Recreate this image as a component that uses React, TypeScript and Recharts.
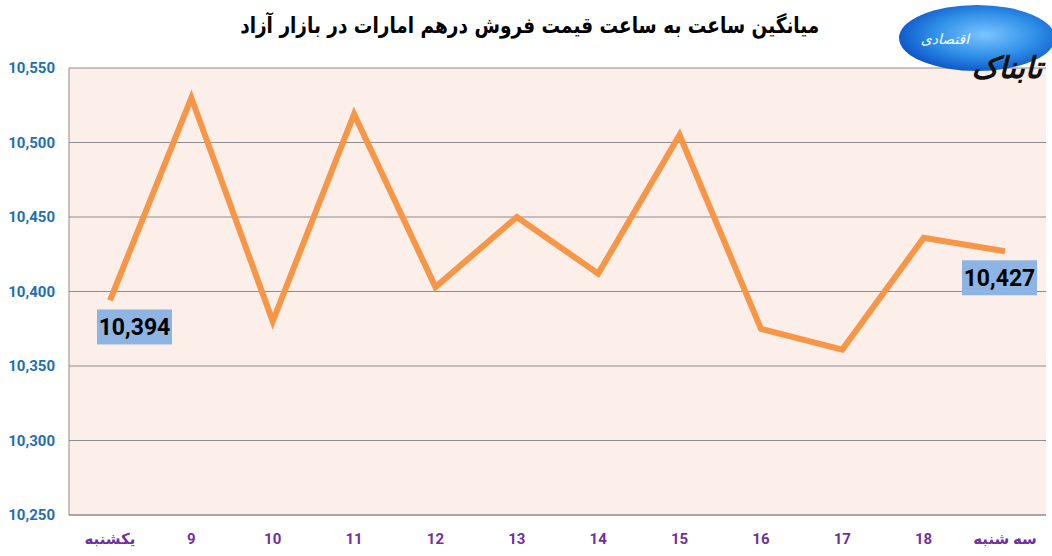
import { LineChart, Line, XAxis, YAxis, CartesianGrid } from "recharts";

const days = ["يكشنبه", "9", "10", "11", "12", "13", "14", "15", "16", "17", "18", "سه شنبه"];
const prices = [10394, 10530, 10380, 10519, 10403, 10450, 10412, 10505, 10375, 10361, 10436, 10427];
const yTicks = [10250, 10300, 10350, 10400, 10450, 10500, 10550];

const title = "میانگین ساعت به ساعت قیمت فروش درهم امارات در بازار آزاد";

const data = days.map((day, i) => ({ day, price: prices[i] }));

const fmt = (v: number) => v.toLocaleString("en-US");

const narrow = "'Liberation Sans Narrow', Roboto, 'DejaVu Sans', sans-serif";

const EndLabel = (props: any) => {
  const { x, y, value, index } = props;
  const last = prices.length - 1;
  if (index !== 0 && index !== last) return null;
  const w = 75;
  const h = 35;
  const bx = index === 0 ? x - 13 : x - 43;
  const by = y + 9;
  return (
    <g>
      <rect x={bx} y={by} width={w} height={h} fill="#8EB4E3" />
      <text
        x={bx + w / 2}
        y={by + h / 2 + 8}
        textAnchor="middle"
        fontSize={23}
        fontWeight="bold"
        fontFamily={narrow}
        fill="#000"
      >
        {fmt(value)}
      </text>
    </g>
  );
};

function Logo() {
  return (
    <svg width={170} height={90} style={{ position: "absolute", left: 882, top: 0 }}>
      <defs>
        <radialGradient id="logoGrad" cx="0.55" cy="0.45" r="0.6">
          <stop offset="0%" stopColor="#7cc4ff" />
          <stop offset="55%" stopColor="#2f8fe8" />
          <stop offset="100%" stopColor="#0a4fc4" />
        </radialGradient>
      </defs>
      <ellipse cx={95} cy={38} rx={78} ry={33} fill="url(#logoGrad)" />
      <text
        x={125}
        y={78}
        textAnchor="middle"
        fontSize={30}
        fontWeight="bold"
        fontStyle="italic"
        fontFamily="'DejaVu Sans', sans-serif"
        fill="#111"
      >
        تابناک
      </text>
      <text
        x={63}
        y={44}
        textAnchor="middle"
        fontSize={14}
        fontStyle="italic"
        fontFamily="'DejaVu Sans', sans-serif"
        fill="#fff"
      >
        اقتصادی
      </text>
    </svg>
  );
}

export default function App() {
  return (
    <div
      style={{
        position: "absolute",
        left: 0,
        top: 0,
        width: 1052,
        height: 556,
        background: "#fff",
        overflow: "hidden",
      }}
    >
      <div
        style={{
          position: "absolute",
          left: 0,
          top: 13,
          width: 1060,
          textAlign: "center",
        }}
      >
        <span
          style={{
            display: "inline-block",
            transform: "scaleX(0.84)",
            fontFamily: "'DejaVu Sans', sans-serif",
            fontWeight: "bold",
            fontSize: 22,
            color: "#000",
            direction: "rtl",
          }}
        >
          {title}
        </span>
      </div>
      <div style={{ position: "absolute", left: 0, top: 0 }}>
        <LineChart
          width={1052}
          height={556}
          data={data}
          margin={{ top: 68, right: 6, bottom: 0, left: 0 }}
        >
          <CartesianGrid vertical={false} stroke="#8c8c8c" fill="#FCEEE9" strokeWidth={1} />
          <XAxis
            dataKey="day"
            height={41}
            padding={{ left: 41, right: 41 }}
            tickLine={false}
            tickMargin={12}
            axisLine={{ stroke: "#8c8c8c" }}
            interval={0}
            tick={{
              fill: "#7030A0",
              fontSize: 15,
              fontWeight: "bold",
              fontFamily: narrow,
            }}
          />
          <YAxis
            width={69}
            domain={[10250, 10550]}
            ticks={yTicks}
            tickFormatter={fmt}
            tickLine={false}
            tickMargin={8}
            axisLine={{ stroke: "#8c8c8c" }}
            tick={{
              fill: "#1F6FB4",
              fontSize: 15,
              fontWeight: "bold",
              fontFamily: narrow,
            }}
          />
          <Line
            type="linear"
            dataKey="price"
            stroke="#F79646"
            strokeWidth={6}
            dot={false}
            activeDot={false}
            isAnimationActive={false}
            label={<EndLabel />}
          />
        </LineChart>
      </div>
      <Logo />
    </div>
  );
}
